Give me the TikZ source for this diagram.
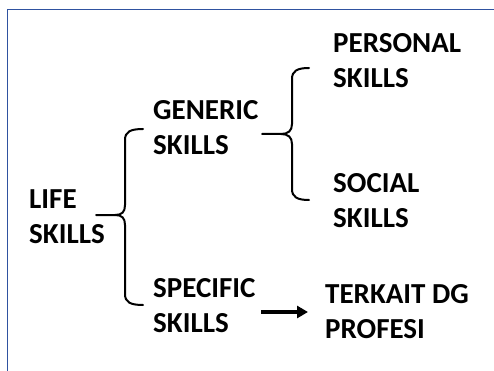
\documentclass[tikz,border=0pt]{standalone}
\usepackage{fontspec}
\setmainfont{Carlito}
\usepackage{tikz}
\usetikzlibrary{arrows.meta}
\definecolor{framebl}{RGB}{47,82,160}
\tikzstyle{lbl}=[anchor=base west, inner sep=0pt, align=left,
  font=\fontsize{29}{35}\selectfont\bfseries]
\tikzstyle{brc}=[line width=2pt, line cap=round]
\tikzstyle{arr}=[line width=3.5pt, -{Triangle[length=11pt,width=12pt]}]

\begin{document}
\begin{tikzpicture}[x=1pt,y=1pt]
    \useasboundingbox (0,0) rectangle (494,-371);
    \draw[framebl, line width=1pt] (7,-371) -- (7,-10) -- (494,-10);
    % labels (anchored at the last line)
    \node [lbl] (life) at (29,-243) {LIFE\\SKILLS};
    \node [lbl] (gen) at (153,-155) {GENERIC\\SKILLS};
    \node [lbl] (spec) at (153,-332) {SPECIFIC\\SKILLS};
    \node [lbl] (pers) at (333,-88) {PERSONAL\\SKILLS};
    \node [lbl] (soc) at (333,-227) {SOCIAL\\SKILLS};
    \node [lbl] (terk) at (325,-338) {TERKAIT DG\\PROFESI};
    % brace points
    \coordinate (lifeB) at (96,-215);
    \coordinate (genB) at (143,-129);
    \coordinate (specB) at (143,-305);
    \coordinate (gen2B) at (262,-134);
    \coordinate (persB) at (309,-68);
    \coordinate (socB) at (309,-200);
    \draw[brc] (lifeB) -- (115,-215) .. controls (122,-215) and (125,-212) .. (125,-205)
        -- (125,-140) .. controls (125,-132) and (130,-129) .. (genB);
    \draw[brc] (115,-215) .. controls (122,-215) and (125,-218) .. (125,-225)
        -- (125,-294) .. controls (125,-302) and (130,-305) .. (specB);
    \draw[brc] (gen2B) -- (281,-134) .. controls (288,-134) and (292,-131) .. (292,-124)
        -- (292,-79) .. controls (292,-71) and (297,-68) .. (persB);
    \draw[brc] (281,-134) .. controls (288,-134) and (292,-137) .. (292,-144)
        -- (292,-189) .. controls (292,-197) and (297,-200) .. (socB);
    % arrow
    \coordinate (arrS) at (261,-312);
    \coordinate (arrE) at (308,-312);
    \draw[arr] (arrS) -- (arrE);
\end{tikzpicture}
\end{document}
